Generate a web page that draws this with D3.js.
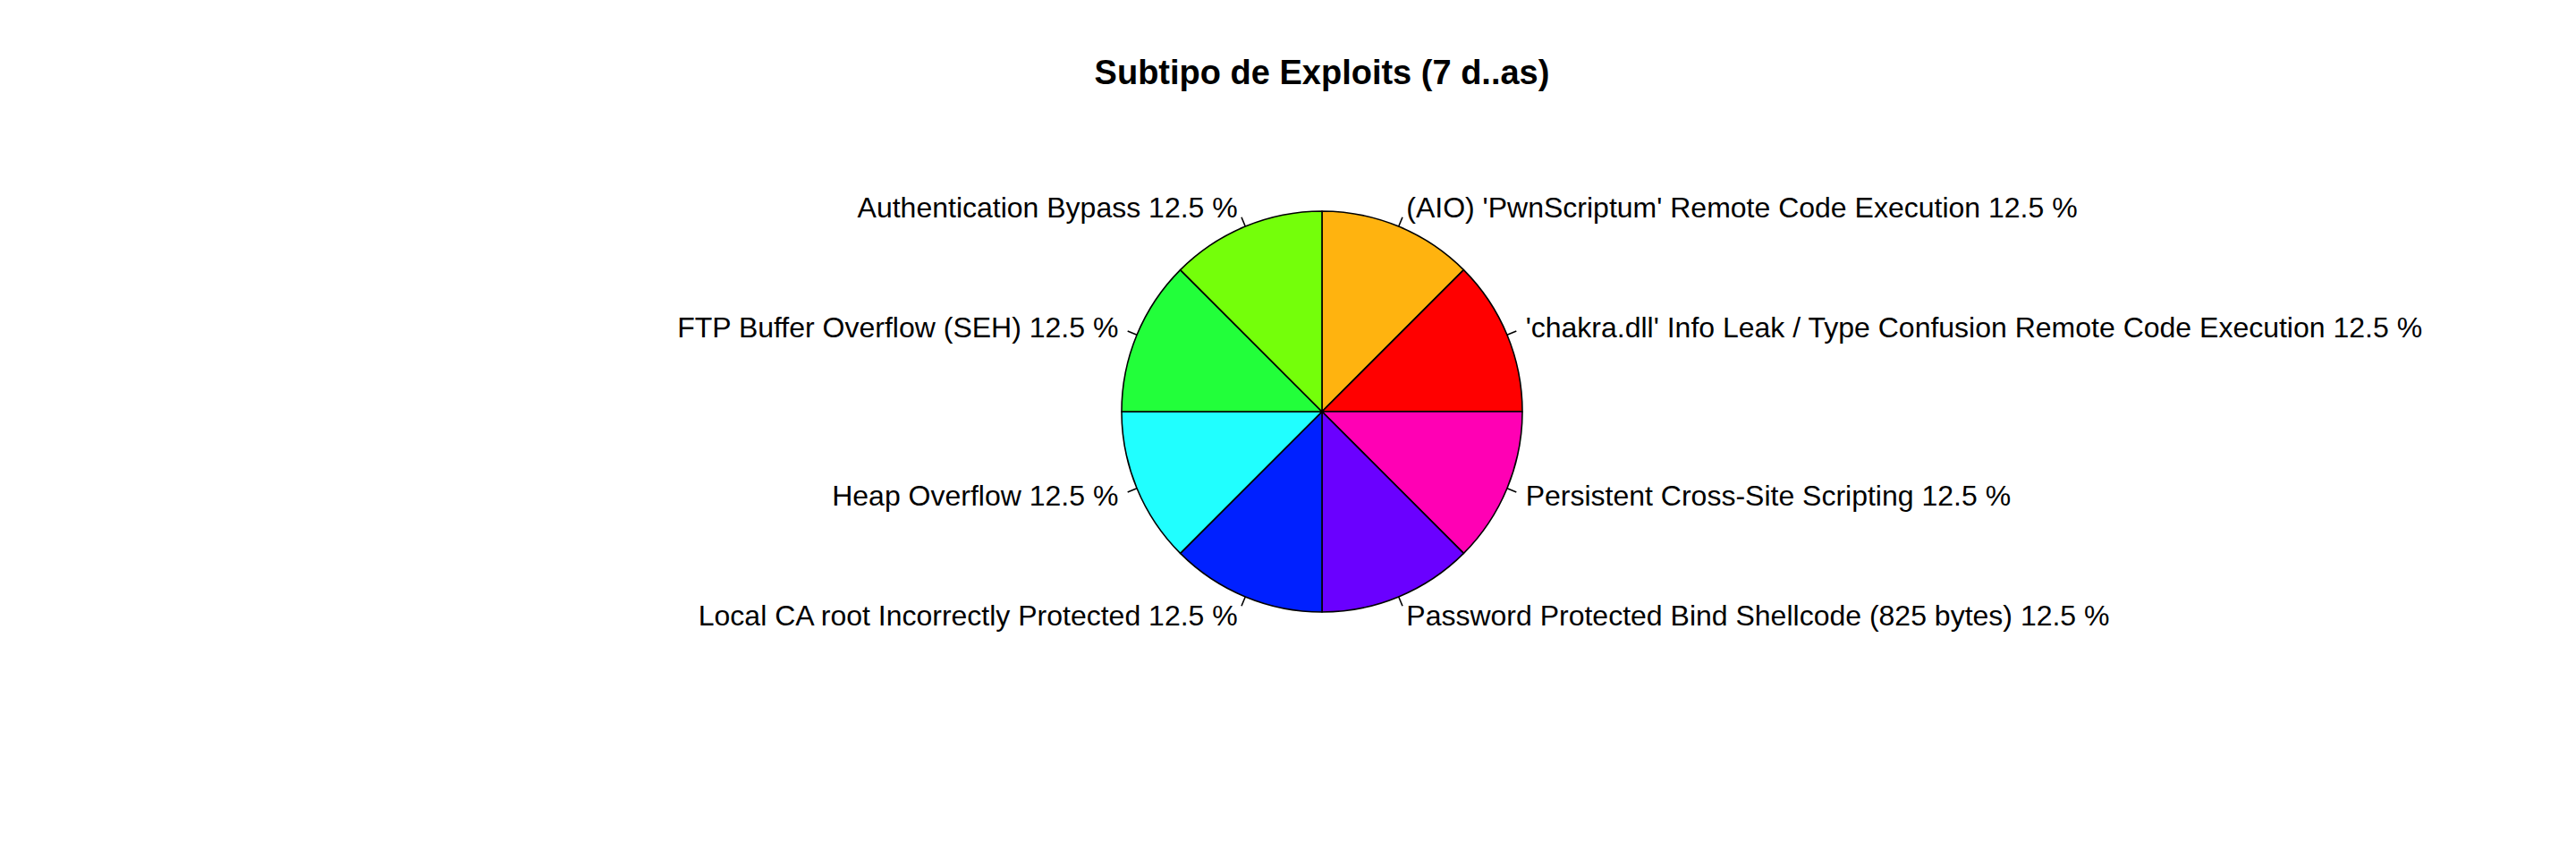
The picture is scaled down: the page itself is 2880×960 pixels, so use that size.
<!DOCTYPE html>
<html>
<head>
<meta charset="utf-8">
<script src="https://cdn.jsdelivr.net/npm/d3@7"></script>
<style>
  html, body { margin: 0; padding: 0; background: #ffffff; }
  svg { display: block; }
</style>
</head>
<body>
<script>
const title = "Subtipo de Exploits (7 d..as)";
const categories = [
  "(AIO) 'PwnScriptum' Remote Code Execution",
  "'chakra.dll' Info Leak / Type Confusion Remote Code Execution",
  "Persistent Cross-Site Scripting",
  "Password Protected Bind Shellcode (825 bytes)",
  "Local CA root Incorrectly Protected",
  "Heap Overflow",
  "FTP Buffer Overflow (SEH)",
  "Authentication Bypass"
];
const counts = [1, 1, 1, 1, 1, 1, 1, 1];
const sliceColors = ["#FFB30F", "#FF0000", "#FF00B4", "#6A00FF", "#0020FF", "#20FFFF", "#22FF3A", "#74FF0A"];

const W = 2880, H = 960;
const cx = 1478, cy = 460, R = 224;

const svg = d3.select("body").append("svg")
  .attr("width", W).attr("height", H)
  .attr("viewBox", `0 0 ${W} ${H}`);

svg.append("rect").attr("width", W).attr("height", H).attr("fill", "#ffffff");

const total = d3.sum(counts);
const data = categories.map((c, i) => ({ name: c, value: counts[i], color: sliceColors[i] }));

const pie = d3.pie().value(d => d.value).sort(null).startAngle(0).endAngle(2 * Math.PI);
const arcs = pie(data);
const arc = d3.arc().innerRadius(0).outerRadius(R);

const g = svg.append("g").attr("transform", `translate(${cx},${cy})`);

g.selectAll("path.slice").data(arcs).enter().append("path")
  .attr("class", "slice")
  .attr("d", arc)
  .attr("fill", d => d.data.color)
  .attr("stroke", "#000000")
  .attr("stroke-width", 1.6)
  .attr("stroke-linejoin", "round");

function pt(a, r) { return [Math.sin(a) * r, -Math.cos(a) * r]; }

g.selectAll("line.tick").data(arcs).enter().append("line")
  .attr("class", "tick")
  .attr("x1", d => pt((d.startAngle + d.endAngle) / 2, R)[0])
  .attr("y1", d => pt((d.startAngle + d.endAngle) / 2, R)[1])
  .attr("x2", d => pt((d.startAngle + d.endAngle) / 2, R * 1.05)[0])
  .attr("y2", d => pt((d.startAngle + d.endAngle) / 2, R * 1.05)[1])
  .attr("stroke", "#000000")
  .attr("stroke-width", 1.6);

const fmt = v => (Math.round(v / total * 1000) / 10) + " %";

g.selectAll("text.lbl").data(arcs).enter().append("text")
  .attr("class", "lbl")
  .attr("x", d => pt((d.startAngle + d.endAngle) / 2, R * 1.1)[0])
  .attr("y", d => pt((d.startAngle + d.endAngle) / 2, R * 1.1)[1] + 11)
  .attr("text-anchor", d => pt((d.startAngle + d.endAngle) / 2, 1)[0] < 0 ? "end" : "start")
  .attr("font-family", "'Liberation Sans', Arial, Helvetica, sans-serif")
  .attr("font-size", 32)
  .attr("fill", "#000000")
  .text(d => d.data.name + " " + fmt(d.data.value));

svg.append("text")
  .attr("x", cx)
  .attr("y", 94)
  .attr("text-anchor", "middle")
  .attr("font-family", "'Liberation Sans', Arial, Helvetica, sans-serif")
  .attr("font-weight", "bold")
  .attr("font-size", 38)
  .attr("fill", "#000000")
  .text(title);
</script>
</body>
</html>
